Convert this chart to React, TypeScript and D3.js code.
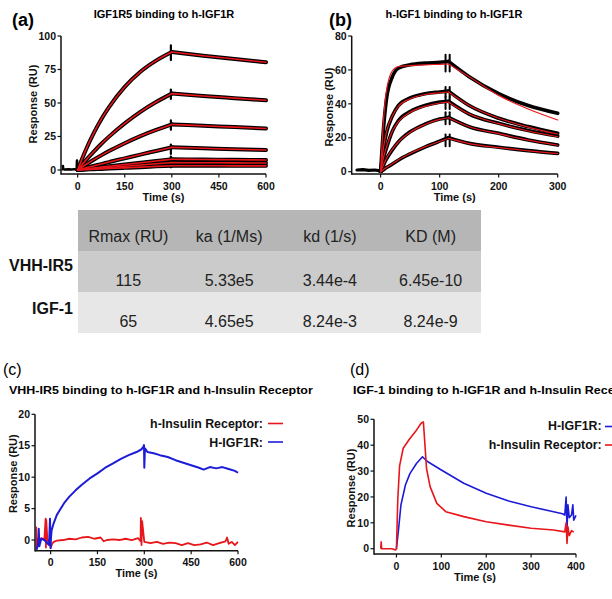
import React from 'react';
import * as d3 from 'd3';

const FONT = '"Liberation Sans", Arial, Helvetica, sans-serif';
const RED = '#e8161b';
const BLUE = '#1c1cd8';

// ---- (a) IGF1R5 binding to h-IGF1R ----
const aTime = [0, 25, 50, 75, 100, 150, 200, 250, 300, 400, 500, 600];
const aCurves = [
  [0, 14.4, 26.9, 37.7, 46.9, 62, 73.3, 81.6, 88, 85.3, 82.8, 80.4],
  [0, 7, 13.4, 19.4, 24.9, 34.8, 43.4, 50.7, 57, 55.2, 53.6, 52],
  [0, 3.9, 7.5, 10.9, 14.1, 20, 25.3, 29.9, 34, 33, 32, 31],
  [0, 1.5, 3, 4.4, 5.9, 8.7, 11.5, 14.2, 16.9, 16.2, 15.5, 14.9],
  [0, 0.7, 1.4, 2.1, 2.8, 4.1, 5.4, 6.7, 8, 7.8, 7.6, 7.5],
  [0, 0.5, 1, 1.4, 1.9, 2.8, 3.7, 4.6, 5.5, 5.4, 5.3, 5.2],
  [0, 0.3, 0.55, 0.8, 1.1, 1.6, 2.1, 2.7, 3.2, 3.2, 3.1, 3.1],
];
const aPreT = [-48, -47, -46, -40, -30, -20, -10, -3, -2, -1, 0];
const aPreV = [0.5, 3, 0.5, 0.3, 0.5, 0.4, 0.5, 0.5, 7, 0.5, 0];
const aSpikeT = 297;
const aSpikes = [[82, 93], [53, 60], [30, 37], [12, 19], [2, 10]];

// ---- (b) h-IGF1 binding to h-IGF1R ----
const bTime = [0, 5, 10, 20, 30, 50, 75, 100, 115, 150, 200, 250, 300];
const bRaw = [
  [0, 26, 43, 56, 61, 63, 64, 64.5, 65, 56, 46, 39, 34.4],
  [0, 14, 23, 33, 39, 43.5, 46, 47, 47.5, 39, 31.5, 26.6, 22.6],
  [0, 8, 14, 24, 30, 35.4, 39, 41, 41.5, 34, 28.5, 24.3, 21],
  [0, 4, 7.5, 13, 17.5, 23.5, 28, 31, 32, 26.5, 22.6, 18.7, 15.7],
  [0, 1.2, 2.4, 4.5, 6.8, 10.5, 14.5, 18, 20, 16.7, 14.4, 12.4, 10.8],
];
const bFit = [
  [0, 31, 48, 59.5, 62, 62.5, 63, 63.3, 63.5, 56, 45, 37, 30.5],
  [0, 14.5, 23.5, 33, 38.5, 43, 45.5, 46.5, 47, 39, 31.5, 26.3, 22.2],
  [0, 8.5, 14.5, 24, 29.5, 35, 38.5, 40.5, 41, 34, 28.3, 24, 20.6],
  [0, 4.2, 7.8, 13.2, 17.5, 23.3, 27.8, 30.8, 31.8, 26.5, 22.4, 18.6, 15.6],
  [0, 1.3, 2.5, 4.7, 7, 10.7, 14.6, 17.8, 19.6, 16.6, 14.2, 12.3, 10.6],
];
const bPreT = [-40, -30, -20, -10, 0];
const bPreV = [1, 1.2, 0.8, 1, 0.5];
const bSpikeT = [110, 117];
const bSpikes = [[59, 69], [44, 50], [37, 44], [28, 35], [15, 22]];

// ---- (c) VHH-IR5 on h-IGF1R and h-Insulin Receptor ----
const cBlueT = [-45, -40, -38, -36, -30, -20, -5, -2, 0, 1, 3, 10, 20, 30, 45, 60, 80, 100, 125, 150, 175, 200, 225, 250, 275, 290, 297, 299, 300, 302, 310, 330, 350, 375, 400, 425, 450, 475, 490, 510, 530, 550, 570, 590, 600];
const cBlueV = [-1.7, -0.5, 1.8, -1.0, 0.2, 0.0, -0.8, 3.4, -1.3, 0.2, 1.5, 2.7, 4.0, 4.8, 6.0, 6.9, 7.9, 8.8, 9.8, 10.6, 11.5, 12.2, 12.9, 13.5, 14.0, 14.4, 14.8, 15.1, 11.5, 14.6, 14.0, 13.8, 13.5, 13.2, 12.7, 12.3, 11.9, 11.5, 11.2, 11.6, 11.4, 11.6, 11.3, 11.0, 10.7];
const cRedT = [-47, -46, -45, -40, -35, -30, -20, -16, -15, -14, -10, -5, 0, 5, 10, 20, 40, 60, 80, 100, 120, 140, 160, 170, 180, 200, 220, 240, 260, 280, 288, 289, 291, 293, 300, 320, 340, 360, 380, 400, 420, 440, 460, 480, 500, 520, 540, 560, 565, 570, 580, 590, 600];
const cRedV = [-1.7, 2.0, -1.0, 0.2, 0.0, 0.3, 0.1, 3.4, -1.2, 3.2, -0.2, 0.0, -1.2, -0.6, -0.3, -0.1, 0.0, 0.2, 0.1, 0.4, 0.5, 0.2, 0.4, -0.2, 0.0, 0.1, 0.0, 0.2, 0.0, 0.3, -0.2, 3.5, -0.8, 3.0, -0.3, -0.5, -0.3, -0.6, -0.4, -0.5, -0.8, -0.5, -0.8, -0.7, -0.4, -0.8, -0.5, -0.2, 0.4, -0.6, -0.3, -0.8, -0.3];

// ---- (d) IGF-1 on h-IGF1R and h-Insulin Receptor ----
const dRedT = [-35, -34, -33, -30, -10, -2, 0, 3, 7, 15, 30, 45, 55, 60, 62, 67, 75, 90, 110, 150, 200, 250, 300, 350, 375, 378, 380, 382, 385, 390, 395];
const dRedV = [0, 2.7, 0, 0, 0, -0.5, 0, 19, 32, 38.8, 42.6, 45.9, 48.5, 49, 44, 31, 24, 17.5, 14.3, 12.4, 10.4, 9.1, 7.9, 7.2, 6.5, 10, 2, 8.5, 5, 7, 6.4];
const dBlueT = [0, 5, 10, 20, 30, 45, 58, 70, 100, 150, 200, 250, 300, 350, 370, 375, 378, 380, 382, 385, 390, 393, 395, 400];
const dBlueV = [0, 8, 16.9, 24.6, 29, 33, 35.5, 33.6, 30.4, 25.3, 21.4, 18.4, 16.2, 14.3, 13.5, 13, 20, 8, 17, 12, 13, 17, 11, 12.9];

// ---- kinetics table ----
const tableCols = ['Rmax (RU)', 'ka (1/Ms)', 'kd (1/s)', 'KD (M)'];
const tableRows = ['VHH-IR5', 'IGF-1'];
const tableVals = [
  ['115', '5.33e5', '3.44e-4', '6.45e-10'],
  ['65', '4.65e5', '8.24e-3', '8.24e-9'],
];

type Pt = [number, number];
const pts = (ts: number[], vs: number[], lo = -Infinity, hi = Infinity): Pt[] =>
  ts.map((t, i) => [t, vs[i]] as Pt).filter(d => d[0] >= lo && d[0] <= hi);

type Sc = d3.ScaleLinear<number, number>;

function Axes({ x, y, xTicks, yTicks, xLabY, yLabX, yLabCy }: any) {
  const [x0, x1] = x.range();
  const [y0, y1] = y.range();
  return (
    <g fontFamily={FONT} fontWeight="bold" fill="#111">
      <line x1={x0} x2={x1} y1={y0} y2={y0} stroke="#111" strokeWidth={1.5} />
      <line x1={x0} x2={x0} y1={y0 + 0.75} y2={y1} stroke="#111" strokeWidth={1.5} />
      {xTicks.map((t: number) => (
        <g key={'x' + t}>
          <line x1={x(t)} x2={x(t)} y1={y0} y2={y0 + 3.5} stroke="#111" strokeWidth={1.2} />
          <text x={x(t)} y={y0 + 15.5} fontSize={10.5} textAnchor="middle">{t}</text>
        </g>
      ))}
      {yTicks.map((t: number) => (
        <g key={'y' + t}>
          <line x1={x0 - 3.5} x2={x0} y1={y(t)} y2={y(t)} stroke="#111" strokeWidth={1.2} />
          <text x={x0 - 5} y={y(t) + 3.7} fontSize={10.5} textAnchor="end">{t}</text>
        </g>
      ))}
      <text x={(x0 + x1) / 2} y={xLabY} fontSize={11} textAnchor="middle">Time (s)</text>
      <text transform={`translate(${yLabX},${yLabCy}) rotate(-90)`} fontSize={11} textAnchor="middle">Response (RU)</text>
    </g>
  );
}

function Clip({ id, x, y }: { id: string; x: Sc; y: Sc }) {
  const [x0, x1] = x.range();
  const [y0, y1] = y.range();
  return (
    <clipPath id={id}>
      <rect x={x0 + 0.5} y={y1 - 6} width={x1 - x0 + 4} height={y0 - y1 + 5} />
    </clipPath>
  );
}

export default function App() {
  // panel scales
  const xa = d3.scaleLinear().domain([-53, 600]).range([61, 266]);
  const ya = d3.scaleLinear().domain([-3, 100]).range([174, 36]);
  const xb = d3.scaleLinear().domain([-49, 300]).range([351.7, 557.7]);
  const yb = d3.scaleLinear().domain([-1.36, 80]).range([174, 36]);
  const xc = d3.scaleLinear().domain([-50, 600]).range([35, 238]);
  const yc = d3.scaleLinear().domain([-1.7, 20]).range([550.7, 414.3]);
  const xd = d3.scaleLinear().domain([-50, 400]).range([374, 576]);
  const yd = d3.scaleLinear().domain([-2.05, 50]).range([554, 419.3]);

  const smooth = (x: Sc, y: Sc) => d3.line<Pt>().x(d => x(d[0])).y(d => y(d[1])).curve(d3.curveMonotoneX);
  const raw = (x: Sc, y: Sc) => d3.line<Pt>().x(d => x(d[0])).y(d => y(d[1]));

  const la = smooth(xa, ya);
  const lb = smooth(xb, yb);
  const ra = raw(xa, ya);
  const rb = raw(xb, yb);
  const lc = raw(xc, yc);
  const ld = raw(xd, yd);

  const colX = d3.scaleBand<string>().domain(tableCols).range([78, 481]);
  const rowY = d3.scaleBand<string>().domain(['head', ...tableRows]).range([210, 333]);
  const rowFill = ['#b6b6b6', '#cbcbcb', '#e7e7e7'];

  return (
    <div style={{ position: 'absolute', left: 0, top: 0 }}>
      <svg width={612} height={599} viewBox="0 0 612 599" style={{ display: 'block', background: '#fff' }}>
        <defs>
          <Clip id="ca" x={xa} y={ya} />
          <Clip id="cb" x={xb} y={yb} />
          <Clip id="cc" x={xc} y={yc} />
          <Clip id="cd" x={xd} y={yd} />
        </defs>
        <rect width={612} height={599} fill="#fff" />

        {/* ---------- (a) ---------- */}
        <text x={12} y={26} fontFamily={FONT} fontWeight="bold" fontSize={18}>(a)</text>
        <text x={164} y={18} fontFamily={FONT} fontWeight="bold" fontSize={11} textAnchor="middle">IGF1R5 binding to h-IGF1R</text>
        <g clipPath="url(#ca)" fill="none" strokeLinejoin="round" strokeLinecap="round">
          <path d={ra(pts(aPreT, aPreV)) || ''} stroke="#000" strokeWidth={2.6} />
          {aCurves.map((c, i) => (
            <g key={i}>
              <path d={la(pts(aTime, c, 0, 300)) || ''} stroke="#000" strokeWidth={4} />
              <path d={la(pts(aTime, c, 300, 600)) || ''} stroke="#000" strokeWidth={4} />
            </g>
          ))}
          {aSpikes.map((s, i) => (
            <line key={i} x1={xa(aSpikeT)} x2={xa(aSpikeT)} y1={ya(s[0])} y2={ya(s[1])} stroke="#000" strokeWidth={2.2} />
          ))}
          {aCurves.map((c, i) => (
            <g key={i}>
              <path d={la(pts(aTime, c, 0, 300)) || ''} stroke={RED} strokeWidth={1.6} />
              <path d={la(pts(aTime, c, 300, 600)) || ''} stroke={RED} strokeWidth={1.6} />
            </g>
          ))}
        </g>
        <Axes x={xa} y={ya} xTicks={[0, 150, 300, 450, 600]} yTicks={[0, 25, 50, 75, 100]} xLabY={201} yLabX={37} yLabCy={104} />

        {/* ---------- (b) ---------- */}
        <text x={329} y={26} fontFamily={FONT} fontWeight="bold" fontSize={18}>(b)</text>
        <text x={454} y={18} fontFamily={FONT} fontWeight="bold" fontSize={11} textAnchor="middle">h-IGF1 binding to h-IGF1R</text>
        <g clipPath="url(#cb)" fill="none" strokeLinejoin="round" strokeLinecap="round">
          <path d={rb(pts(bPreT, bPreV)) || ''} stroke="#000" strokeWidth={3.2} />
          {bRaw.map((c, i) => (
            <g key={i}>
              <path d={lb(pts(bTime, c, 0, 115)) || ''} stroke="#000" strokeWidth={3.6} />
              <path d={lb(pts(bTime, c, 115, 300)) || ''} stroke="#000" strokeWidth={3.6} />
            </g>
          ))}
          {bSpikes.map((s, i) =>
            bSpikeT.map(t => (
              <line key={i + '-' + t} x1={xb(t)} x2={xb(t)} y1={yb(s[0])} y2={yb(s[1])} stroke="#000" strokeWidth={2} />
            ))
          )}
          {bFit.map((c, i) => (
            <g key={i}>
              <path d={lb(pts(bTime, c, 0, 115)) || ''} stroke={RED} strokeWidth={1.2} />
              <path d={lb(pts(bTime, c, 115, 300)) || ''} stroke={RED} strokeWidth={1.2} />
            </g>
          ))}
        </g>
        <Axes x={xb} y={yb} xTicks={[0, 100, 200, 300]} yTicks={[0, 20, 40, 60, 80]} xLabY={201} yLabX={333} yLabCy={107} />

        {/* ---------- table ---------- */}
        <g fontFamily={FONT}>
          {['head', ...tableRows].map((r, i) => (
            <rect key={r} x={78} y={rowY(r)} width={403} height={rowY.bandwidth()} fill={rowFill[i]} />
          ))}
          {tableCols.map(c => (
            <text key={c} x={(colX(c) || 0) + colX.bandwidth() / 2} y={241.5} fontSize={16} textAnchor="middle" fill="#222">{c}</text>
          ))}
          {tableRows.map((r, i) => (
            <g key={r}>
              <text x={73} y={[271, 314][i]} fontSize={16} fontWeight="bold" textAnchor="end" fill="#111">{r}</text>
              {tableVals[i].map((v, j) => (
                <text key={j} x={(colX(tableCols[j]) || 0) + colX.bandwidth() / 2} y={(rowY(r) || 0) + 34.5} fontSize={16} textAnchor="middle" fill="#222">{v}</text>
              ))}
            </g>
          ))}
        </g>

        {/* ---------- (c) ---------- */}
        <text x={3} y={375} fontFamily={FONT} fontSize={16}>(c)</text>
        <text transform="translate(9,394.3) scale(1.084,1)" fontFamily={FONT} fontWeight="bold" fontSize={11.5}>VHH-IR5 binding to h-IGF1R and h-Insulin Receptor</text>
        <g clipPath="url(#cc)" fill="none" strokeLinejoin="round">
          <path d={lc(pts(cRedT, cRedV)) || ''} stroke={RED} strokeWidth={1.8} />
          <path d={lc(pts(cBlueT, cBlueV)) || ''} stroke={BLUE} strokeWidth={2} />
        </g>
        <Axes x={xc} y={yc} xTicks={[0, 150, 300, 450, 600]} yTicks={[0, 5, 10, 15, 20]} xLabY={577} yLabX={17} yLabCy={473.7} />
        <g fontFamily={FONT} fontWeight="bold" fontSize={12.4} fill="#111">
          <text x={263} y={428} textAnchor="end">h-Insulin Receptor:</text>
          <line x1={268} x2={283} y1={423.5} y2={423.5} stroke={RED} strokeWidth={1.6} />
          <text x={263} y={446.5} textAnchor="end">H-IGF1R:</text>
          <line x1={268} x2={283} y1={442} y2={442} stroke={BLUE} strokeWidth={1.6} />
        </g>

        {/* ---------- (d) ---------- */}
        <text x={350} y={375} fontFamily={FONT} fontSize={16}>(d)</text>
        <text transform="translate(353,394.3) scale(1.084,1)" fontFamily={FONT} fontWeight="bold" fontSize={11.5}>IGF-1 binding to h-IGF1R and h-Insulin Receptor</text>
        <g clipPath="url(#cd)" fill="none" strokeLinejoin="round">
          <path d={ld(pts(dBlueT, dBlueV)) || ''} stroke={BLUE} strokeWidth={1.6} />
          <path d={ld(pts(dRedT, dRedV)) || ''} stroke={RED} strokeWidth={1.6} />
        </g>
        <Axes x={xd} y={yd} xTicks={[0, 100, 200, 300, 400]} yTicks={[0, 10, 20, 30, 40, 50]} xLabY={581} yLabX={355} yLabCy={488} />
        <g fontFamily={FONT} fontWeight="bold" fontSize={12.4} fill="#111">
          <text x={601.7} y={430} textAnchor="end">H-IGF1R:</text>
          <line x1={605} x2={620} y1={426.5} y2={426.5} stroke={BLUE} strokeWidth={1.6} />
          <text x={601.7} y={448.5} textAnchor="end">h-Insulin Receptor:</text>
          <line x1={605} x2={620} y1={445} y2={445} stroke={RED} strokeWidth={1.6} />
        </g>
      </svg>
    </div>
  );
}
